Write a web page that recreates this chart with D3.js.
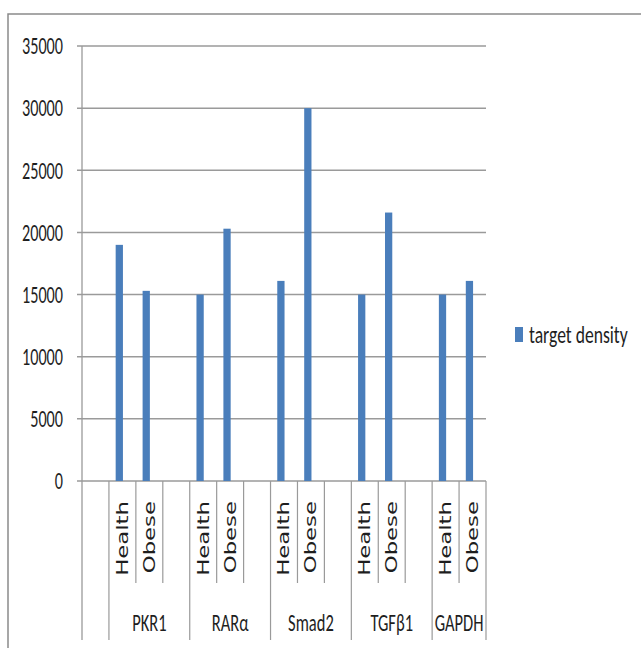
<!DOCTYPE html>
<html>
<head>
<meta charset="utf-8">
<script src="https://cdn.jsdelivr.net/npm/d3@7"></script>
<style>
  html, body { margin: 0; padding: 0; background: #fff; }
  svg { display: block; }
</style>
</head>
<body>
<script>
// ---- data ----
const groups = ["PKR1", "RARα", "Smad2", "TGFβ1", "GAPDH"];
const conditions = ["Health", "Obese"];
const healthValues = [19000, 15000, 16100, 15000, 15000];
const obeseValues = [15300, 20300, 30000, 21600, 16100];
const yTicks = [0, 5000, 10000, 15000, 20000, 25000, 30000, 35000];
const seriesName = "target density";

// build category slots: a leading blank, then Health/Obese/blank per group (no trailing blank)
const slots = [{ key: "s0", group: "", inner: "", value: null }];
groups.forEach((g, i) => {
  slots.push({ key: g + "-H", group: g, inner: conditions[0], value: healthValues[i] });
  slots.push({ key: g + "-O", group: g, inner: conditions[1], value: obeseValues[i] });
  if (i < groups.length - 1) slots.push({ key: g + "-b", group: g, inner: "", value: null });
});

const W = 641, H = 648;
const plot = { left: 82, right: 486, top: 46, bottom: 481 };
const innerBottom = 583, outerBottom = 640;
const barColor = "#4a7ebb";
const gridColor = "#9a9a9a";
const textColor = "#1e1e1e";
const calibri = "Carlito, Lato, 'Open Sans', sans-serif";

const svg = d3.select("body").append("svg").attr("width", W).attr("height", H);

// chart border
svg.append("path")
  .attr("d", `M8,${H} L8,14 L${W},14`)
  .attr("fill", "none").attr("stroke", "#8a8a8a").attr("stroke-width", 1.5);

const x = d3.scaleBand().domain(slots.map(d => d.key)).range([plot.left, plot.right]).paddingInner(0).paddingOuter(0);
const y = d3.scaleLinear().domain([0, 35000]).range([plot.bottom, plot.top]);

// gridlines
svg.append("g").selectAll("line").data(yTicks).join("line")
  .attr("x1", plot.left - 5).attr("x2", plot.right)
  .attr("y1", d => y(d)).attr("y2", d => y(d))
  .attr("stroke", gridColor).attr("stroke-width", 1.5);

// value axis line
svg.append("line")
  .attr("x1", plot.left).attr("x2", plot.left)
  .attr("y1", y(35000)).attr("y2", outerBottom)
  .attr("stroke", gridColor).attr("stroke-width", 1.3);

// y tick labels
svg.append("g").selectAll("text").data(yTicks).join("text")
  .attr("transform", d => `translate(63,${y(d)}) scale(1,1.45)`)
  .attr("text-anchor", "end").attr("dy", "0.35em")
  .attr("font-family", calibri).attr("font-size", 16.2).attr("fill", textColor)
  .text(d => d);

// bars
const bw = x.bandwidth();
svg.append("g").selectAll("rect").data(slots.filter(d => d.value != null)).join("rect")
  .attr("x", d => x(d.key) + bw * 0.25)
  .attr("width", bw * 0.27)
  .attr("y", d => y(d.value))
  .attr("height", d => y(0) - y(d.value))
  .attr("fill", barColor);

// category axis separators
const sepG = svg.append("g");
slots.forEach((d, i) => {
  if (i === 0) return;
  const prev = slots[i - 1];
  const outer = prev.group !== d.group;
  sepG.append("line")
    .attr("x1", x(d.key)).attr("x2", x(d.key))
    .attr("y1", plot.bottom).attr("y2", outer ? outerBottom : innerBottom)
    .attr("stroke", gridColor).attr("stroke-width", 1.2);
});
sepG.append("line")
  .attr("x1", plot.right).attr("x2", plot.right)
  .attr("y1", plot.bottom).attr("y2", outerBottom)
  .attr("stroke", gridColor).attr("stroke-width", 1.2);

// inner labels (rotated)
svg.append("g").selectAll("text").data(slots.filter(d => d.inner)).join("text")
  .attr("transform", d => `translate(${x(d.key) + bw / 2},501) rotate(-90) scale(1.52,1)`)
  .attr("text-anchor", "end").attr("dy", "0.36em")
  .attr("font-family", "'DejaVu Sans', Verdana, sans-serif").attr("font-size", 15)
  .attr("fill", textColor)
  .text(d => d.inner);

// outer labels
svg.append("g").selectAll("text").data(groups).join("text")
  .attr("transform", g => {
    const ks = slots.filter(s => s.group === g);
    const x0 = x(ks[0].key), x1 = x(ks[ks.length - 1].key) + bw;
    return `translate(${(x0 + x1) / 2},622) scale(1,1.5)`;
  })
  .attr("text-anchor", "middle").attr("dy", "0.35em")
  .attr("font-family", calibri).attr("font-size", 16.5).attr("fill", textColor)
  .text(g => g);

// legend
const lg = svg.append("g");
lg.append("rect").attr("x", 515).attr("y", 327).attr("width", 8).attr("height", 15).attr("fill", barColor);
lg.append("text")
  .attr("transform", "translate(529,335) scale(1,1.4)")
  .attr("dy", "0.32em")
  .attr("font-family", calibri).attr("font-size", 17.6).attr("fill", textColor)
  .text(seriesName);
</script>
</body>
</html>
